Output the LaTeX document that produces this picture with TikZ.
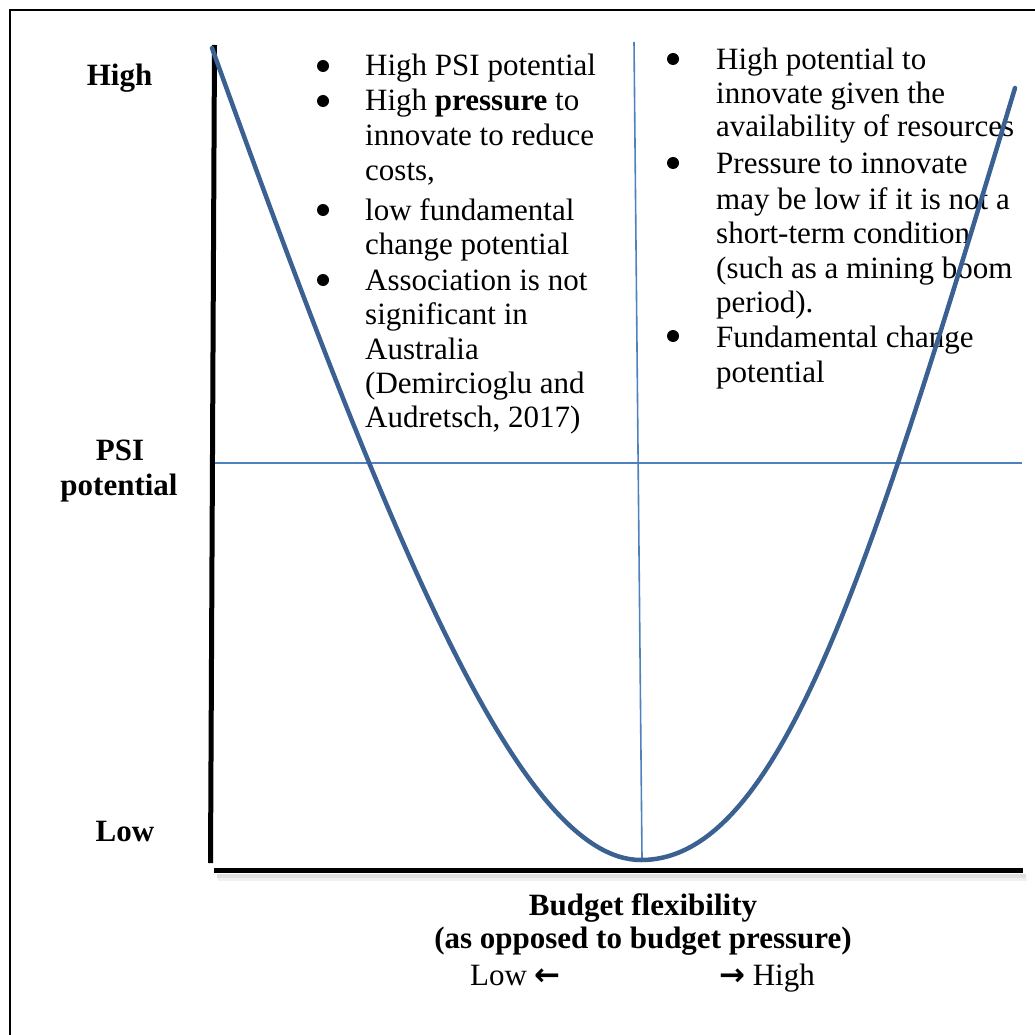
\documentclass[tikz,border=0pt]{standalone}
\usepackage{fontspec}
\setmainfont{Liberation Serif}
\newfontfamily\arrowfont{DejaVu Sans}
\definecolor{curveblue}{RGB}{59,96,146}
\definecolor{thinblue}{RGB}{79,129,189}
\begin{document}
\begin{tikzpicture}[x=1pt,y=-1pt,
  txt/.style={inner sep=0pt, anchor=base west, font=\fontsize{31}{35}\selectfont},
  lbl/.style={inner sep=0pt, anchor=base, font=\fontsize{31}{35}\selectfont\bfseries},
  bul/.style={fill=black},
  axis/.style={line width=5pt, black},
  guide/.style={line width=1.6pt, thinblue},
  curvestyle/.style={line width=4.5pt, curveblue, line cap=round}]
\useasboundingbox (0,0) rectangle (1034,1035);
% frame (cropped at right and bottom)
\draw[line width=2pt] (9.5,1040) -- (9.5,10) -- (1040,10);
% axis labels
\node[lbl] (yhigh) at (119.5,86) {High};
\node[lbl] (ypsi1) at (120,460) {PSI};
\node[lbl] (ypsi2) at (119,495) {potential};
\node[lbl] (ylow) at (125,841) {Low};
\node[lbl] (xlab1) at (643,915) {Budget flexibility};
\node[lbl] (xlab2) at (643,948) {(as opposed to budget pressure)};
\node[txt] (xlow) at (470,985) {Low {\arrowfont\bfseries ←}};
\node[txt, anchor=base east] (xhigh) at (815,985) {{\arrowfont\bfseries →} High};
% left bullet list
\node[txt] (l1) at (365,76) {High PSI potential};
\node[txt] (l2) at (365,111) {High \textbf{pressure} to};
\node[txt] (l3) at (365,146) {innovate to reduce};
\node[txt] (l4) at (365,180) {costs,};
\node[txt] (l5) at (365,220) {low fundamental};
\node[txt] (l6) at (365,254) {change potential};
\node[txt] (l7) at (365,290) {Association is not};
\node[txt] (l8) at (365,324) {significant in};
\node[txt] (l9) at (365,359) {Australia};
\node[txt] (l10) at (365,393) {(Demircioglu and};
\node[txt] (l11) at (365,427) {Audretsch, 2017)};
\foreach \yy in {76,111,220,290} \fill[bul] (323,\yy-10) circle (6);
% right bullet list
\node[txt] (r1) at (716,70) {High potential to};
\node[txt] (r2) at (716,104) {innovate given the};
\node[txt] (r3) at (716,137) {availability of resources};
\node[txt] (r4) at (716,174) {Pressure to innovate};
\node[txt] (r5) at (716,209) {may be low if it is not a};
\node[txt] (r6) at (716,243) {short-term condition};
\node[txt] (r7) at (716,278) {(such as a mining boom};
\node[txt] (r8) at (716,312) {period).};
\node[txt] (r9) at (716,347) {Fundamental change};
\node[txt] (r10) at (716,382) {potential};
\foreach \yy in {70,174,347} \fill[bul] (673,\yy-11) circle (6);
% shadow of x axis
\draw[line width=4pt, black!12] (217,876) -- (1026,876);
\draw[line width=3pt, black!6] (218,879) -- (1027,879);
% axes
\coordinate (ytop) at (214.5,45);
\coordinate (ybot) at (210.5,863);
\coordinate (xleft) at (214,870.5);
\coordinate (xright) at (1023,870.5);
\draw[axis] (ytop) -- (ybot);
\draw[axis] (xleft) -- (xright);
% guide lines
\coordinate (vtop) at (634,42);
\coordinate (vbot) at (642,858);
\coordinate (hleft) at (215,463);
\coordinate (hright) at (1022,463);
\draw[guide] (vtop) -- (vbot);
\draw[guide] (hleft) -- (hright);
% curve
\coordinate (cl) at (212,48);
\coordinate (cv) at (641,860);
\coordinate (cr) at (1015,88);
\draw[curvestyle] (cl) .. controls (392,548) and (521,860) .. (cv)
  .. controls (781,860) and (870,568) .. (cr);
\end{tikzpicture}
\end{document}
